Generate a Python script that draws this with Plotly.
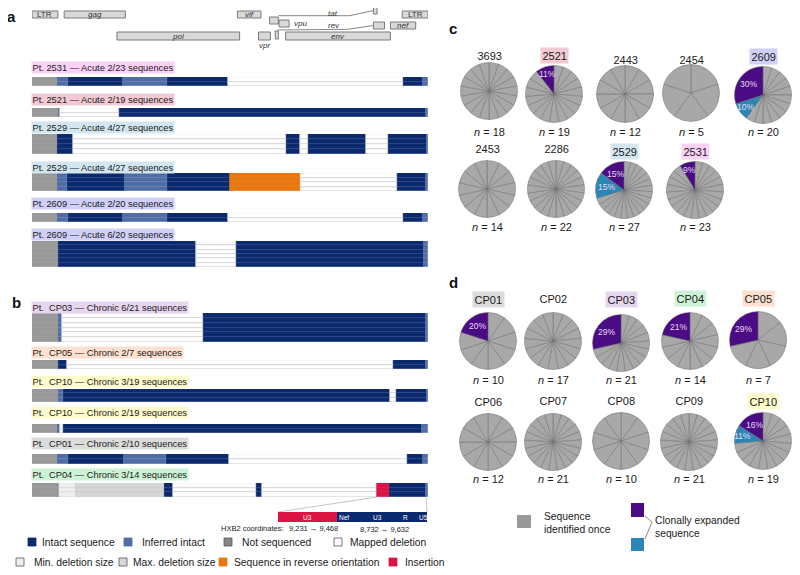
import math
import plotly.graph_objects as go

# ---------------- data ----------------
genome_len = 9719
gene_names = ["LTR", "gag", "pol", "vif", "vpr", "tat", "tat", "rev", "rev", "vpu", "env", "nef", "LTR"]
gene_start = [1, 790, 2085, 5041, 5559, 5831, 8379, 5970, 8379, 6062, 6225, 8797, 9086]
gene_end = [634, 2292, 5096, 5619, 5850, 6045, 8469, 6045, 8653, 6310, 8795, 9417, 9719]

track_labels = [
    "Pt. 2531 — Acute 2/23 sequences",
    "Pt. 2521 — Acute 2/19 sequences",
    "Pt. 2529 — Acute 4/27 sequences",
    "Pt. 2529 — Acute 4/27 sequences",
    "Pt. 2609 — Acute 2/20 sequences",
    "Pt. 2609 — Acute 6/20 sequences",
    "Pt.\u00a0 CP03 — Chronic 6/21 sequences",
    "Pt.\u00a0 CP05 — Chronic 2/7 sequences",
    "Pt.\u00a0 CP10 — Chronic 3/19 sequences",
    "Pt.\u00a0 CP10 — Chronic 2/19 sequences",
    "Pt.\u00a0 CP01 — Chronic 2/10 sequences",
    "Pt.\u00a0 CP04 — Chronic 3/14 sequences",
]
track_patient = ["2531", "2521", "2529", "2529", "2609", "2609", "CP03", "CP05", "CP10", "CP10", "CP01", "CP04"]
track_nseq = [2, 2, 4, 4, 2, 6, 6, 2, 3, 2, 2, 3]

brk_2531 = [0, 620, 880, 2230, 3310, 4810, 9100, 9590, 9719]
typ_2531 = ["NS", "INF", "INT", "INF", "INT", "DEL", "INT", "INF"]
brk_2521 = [0, 650, 690, 2140, 9670, 9719]
typ_2521 = ["NS", "INF", "DEL", "INT", "INF"]
brk_2529a = [0, 620, 1000, 6230, 6580, 6770, 8200, 8740, 9690, 9719]
typ_2529a = ["NS", "INT", "DEL", "INT", "DEL", "INT", "DEL", "INT", "INF"]
brk_2529b = [0, 620, 860, 2280, 3310, 4860, 6580, 8960, 9670, 9719]
typ_2529b = ["NS", "INF", "INT", "INF", "INT", "REV", "DEL", "INT", "INF"]
brk_2609a = [0, 620, 880, 2230, 3310, 4810, 9100, 9590, 9719]
typ_2609a = ["NS", "INF", "INT", "INF", "INT", "DEL", "INT", "INF"]
brk_2609b = [0, 640, 4020, 5010, 9620, 9719]
typ_2609b = ["NS", "INT", "DEL", "INT", "INF"]
brk_cp03 = [0, 640, 740, 4200, 9670, 9719]
typ_cp03 = ["NS", "INF", "DEL", "INT", "INF"]
brk_cp05 = [0, 640, 860, 8860, 9670, 9719]
typ_cp05 = ["NS", "INT", "DEL", "INT", "INF"]
brk_cp10a = [0, 640, 760, 8790, 8930, 9690, 9719]
typ_cp10a = ["NS", "INF", "INT", "DEL", "INT", "INF"]
brk_cp10b = [0, 610, 690, 760, 9570, 9719]
typ_cp10b = ["NS", "INF", "DEL", "INT", "INF"]
brk_cp01 = [0, 620, 880, 2260, 3290, 4830, 9200, 9590, 9719]
typ_cp01 = ["NS", "INF", "INT", "INF", "INT", "DEL", "INT", "INF"]
brk_cp04 = [0, 640, 660, 1080, 3240, 3460, 5500, 5640, 8470, 8760, 9670, 9719]
typ_cp04 = ["NS", "INT", "MIN", "MAX", "INT", "DEL", "INT", "DEL", "INS", "INT", "INF"]

track_breaks = [brk_2531, brk_2521, brk_2529a, brk_2529b, brk_2609a, brk_2609b,
                brk_cp03, brk_cp05, brk_cp10a, brk_cp10b, brk_cp01, brk_cp04]
track_types = [typ_2531, typ_2521, typ_2529a, typ_2529b, typ_2609a, typ_2609b,
               typ_cp03, typ_cp05, typ_cp10a, typ_cp10b, typ_cp01, typ_cp04]

insert_hxb2 = "9,231 \u2192 9,468"
ltr_hxb2 = "8,732 \u2192 9,632"
inset_labels = ["U3", "Nef", "U3", "R", "U5"]

c_ids = ["3693", "2521", "2443", "2454", "2609", "2453", "2286", "2529", "2531"]
c_n = [18, 19, 12, 5, 20, 14, 22, 27, 23]
c_purple = [0, 2, 0, 0, 6, 0, 0, 4, 2]
c_blue = [0, 0, 0, 0, 2, 0, 0, 4, 0]

d_ids = ["CP01", "CP02", "CP03", "CP04", "CP05", "CP06", "CP07", "CP08", "CP09", "CP10"]
d_n = [10, 17, 21, 14, 7, 12, 21, 10, 21, 19]
d_purple = [2, 0, 6, 3, 2, 0, 0, 0, 0, 3]
d_blue = [0, 0, 0, 0, 0, 0, 0, 0, 0, 2]

# ---------------- style / layout ----------------
OFF = 8                      # page body margin
W, H = 800 - OFF, 575 - OFF  # figure size so the page is 800x575
FONT = "Liberation Sans, Arial, sans-serif"
TXT = "#1a1a1a"
X0, X1 = 32, 428  # pixel extent of genome axis (page coords)


def px_x(p):
    return (p - OFF) / W


def px_y(p):
    return 1 - (p - OFF) / H


def nt_to_px(nt):
    return X0 + (X1 - X0) * nt / genome_len


def ann(x, y, text, size, xa="center", ya="middle", color=TXT, **kw):
    d = dict(xref="paper", yref="paper", x=px_x(x), y=px_y(y), text=text, showarrow=False,
             xanchor=xa, yanchor=ya, font=dict(size=size, color=color, family=FONT))
    d.update(kw)
    return d


seg_fill = {"INT": "#0b2a6e", "INF": "#4f6ca5", "NS": "#999999", "DEL": "#ffffff",
            "REV": "#e8780f", "INS": "#dc1443", "MIN": "#efefef", "MAX": "#d7d7d7"}
seg_line = {"INT": "#2a4586", "INF": "#6882b5", "NS": "#999999", "DEL": "#c9c9c9",
            "REV": "#e8780f", "INS": "#dc1443", "MIN": "#d3d3d3", "MAX": "#c8c8c8"}

patient_bg = {"2531": "#fbd2f6", "2521": "#f3cad3", "2529": "#d3e6f0", "2609": "#cfcff8",
              "CP03": "#e6d5ee", "CP05": "#fde0cf", "CP10": "#fdfbcb", "CP01": "#dcdcdc",
              "CP04": "#cdf3d6"}

track_px = [(77, 86), (108, 117), (134, 154), (173, 191), (213, 222), (241, 267),
            (313, 342), (360, 369), (389, 402), (424, 433), (454, 464), (483, 497)]
label_y = [67, 99, 127, 167, 203, 234, 307, 352, 381, 412, 443, 474]

gene_lane = [(11, 18), (11, 18), (32, 40), (11, 18), (32, 40), (17, 24), (7, 14),
             (31, 39), (22, 29), (20, 27), (32, 40), (22, 29), (11, 18)]
gene_label_mode = ["in", "in", "in", "in", "below", "none", "none", "none", "none",
                   "right", "in", "in", "in"]

fig = go.Figure()
shapes = []
annos = []

layout_axes = {}
layout_axes["xaxis"] = dict(domain=[px_x(X0), px_x(X1)], range=[0, genome_len], visible=False,
                            fixedrange=True, anchor="y")
layout_axes["yaxis"] = dict(domain=[px_y(46), px_y(OFF)], range=[46, OFF], visible=False,
                            fixedrange=True, anchor="x")

for i, g in enumerate(gene_names):
    t, b = gene_lane[i]
    shapes.append(dict(type="rect", xref="x", yref="y", x0=gene_start[i], x1=gene_end[i],
                       y0=t, y1=b, fillcolor="#d9d9d9", line=dict(color="#7a7a7a", width=1)))
    mode = gene_label_mode[i]
    txt = g if g == "LTR" else "<i>%s</i>" % g
    gf = dict(size=8, color="#333", family=FONT)
    if mode == "in":
        annos.append(dict(xref="x", yref="y", x=(gene_start[i] + gene_end[i]) / 2, y=(t + b) / 2,
                          xanchor="center", yanchor="middle", text=txt, showarrow=False, font=gf))
    elif mode == "below":
        annos.append(dict(xref="x", yref="y", x=(gene_start[i] + gene_end[i]) / 2, y=b + 5,
                          xanchor="center", yanchor="middle", text=txt, showarrow=False, font=gf))
    elif mode == "right":
        annos.append(dict(xref="x", yref="y", x=gene_end[i] + 60, y=(t + b) / 2 - 0.5,
                          xanchor="left", yanchor="middle", text=txt, showarrow=False, font=gf))

tat1_end, tat2_start = gene_end[5], gene_start[6]
rev1_end, rev2_start = gene_end[7], gene_start[8]
shapes.append(dict(type="path", xref="x", yref="y",
                   path="M %d,15.7 L %d,15.7 L %d,10.5" % (tat1_end, 7800, tat2_start),
                   line=dict(color="#666", width=0.8)))
shapes.append(dict(type="path", xref="x", yref="y",
                   path="M %d,30 L %d,29.3 L %d,25.5" % (rev1_end - 30, 7750, rev2_start),
                   line=dict(color="#666", width=0.8)))
for gname, gx, gy in [("tat", 7390, 13), ("rev", 7420, 25)]:
    annos.append(dict(xref="x", yref="y", x=gx, y=gy, xanchor="center", yanchor="middle", borderpad=0,
                      text="<i>%s</i>" % gname, showarrow=False, font=dict(size=8, color="#333", family=FONT)))

for k in range(len(track_labels)):
    ax = "y%d" % (k + 2)
    top, bot = track_px[k]
    n = track_nseq[k]
    layout_axes["yaxis%d" % (k + 2)] = dict(domain=[px_y(bot), px_y(top)], range=[n - 0.5, -0.5],
                                            visible=False, fixedrange=True, anchor="x")
    brk = track_breaks[k]
    typ = track_types[k]
    for code in seg_fill:
        base, length, rows = [], [], []
        for s in range(len(typ)):
            if typ[s] != code:
                continue
            for r in range(n):
                base.append(brk[s])
                length.append(brk[s + 1] - brk[s])
                rows.append(r)
        if not base:
            continue
        fig.add_trace(go.Bar(orientation="h", y=rows, x=length, base=base, width=1,
                             marker=dict(color=seg_fill[code], line=dict(color=seg_line[code], width=0.6)),
                             xaxis="x", yaxis=ax, hoverinfo="skip", showlegend=False))
    annos.append(ann(31, label_y[k], track_labels[k], 9.3, xa="left", borderpad=0.5,
                     bgcolor=patient_bg[track_patient[k]]))

# inset below CP04 track
ins_k = 11
ins_idx = track_types[ins_k].index("INS")
ins_px = nt_to_px(track_breaks[ins_k][ins_idx])
cp04_bot = track_px[ins_k][1]
IN_T, IN_B = 512, 522
IN_L, IN_M, IN_R = 278, 337, 427
shapes.append(dict(type="line", xref="paper", yref="paper", x0=px_x(ins_px), y0=px_y(cp04_bot),
                   x1=px_x(IN_L), y1=px_y(IN_T), line=dict(color="#aaa", width=0.7)))
shapes.append(dict(type="line", xref="paper", yref="paper", x0=px_x(X1 - 2), y0=px_y(cp04_bot),
                   x1=px_x(IN_R), y1=px_y(IN_T), line=dict(color="#aaa", width=0.7)))
shapes.append(dict(type="rect", xref="paper", yref="paper", x0=px_x(IN_L), x1=px_x(IN_M),
                   y0=px_y(IN_B), y1=px_y(IN_T), fillcolor=seg_fill["INS"], line=dict(width=0)))
shapes.append(dict(type="rect", xref="paper", yref="paper", x0=px_x(IN_M), x1=px_x(IN_R),
                   y0=px_y(IN_B), y1=px_y(IN_T), fillcolor=seg_fill["INT"], line=dict(width=0)))
for lab, xx in zip(inset_labels, [307, 344, 377, 405, 423]):
    annos.append(ann(xx, (IN_T + IN_B) / 2, lab, 6.5, color="#ffffff"))
annos.append(ann(219, 528, "HXB2 coordinates:", 7.5, xa="left"))
annos.append(ann(313, 528, insert_hxb2, 7.5))
annos.append(ann(384, 529, ltr_hxb2, 7.5))

leg_items = [
    ("INT", "Intact sequence", 28, 40, 542),
    ("INF", "Inferred intact", 124, 140, 542),
    ("NS", "Not sequenced", 224, 240, 542),
    ("DEL", "Mapped deletion", 334, 348, 542),
    ("MIN", "Min. deletion size", 16, 32, 562),
    ("MAX", "Max. deletion size", 119, 131, 562),
    ("REV", "Sequence in reverse orientation", 219, 232, 562),
    ("INS", "Insertion", 389, 403, 562),
]
for code, text, sx, tx, yy in leg_items:
    edge = "#555" if code in ("DEL", "MIN", "MAX", "NS") else seg_fill[code]
    fill = "#888888" if code == "NS" else seg_fill[code]
    shapes.append(dict(type="rect", xref="paper", yref="paper", x0=px_x(sx), x1=px_x(sx + 8),
                       y0=px_y(yy + 4), y1=px_y(yy - 4), fillcolor=fill, line=dict(color=edge, width=0.8)))
    annos.append(ann(tx, yy, text, 10.3, xa="left"))

for letter, lx, ly in [("a", 11, 17), ("b", 16, 302), ("c", 453, 28), ("d", 453, 282)]:
    annos.append(ann(lx, ly, "<b>%s</b>" % letter, 15, color="#111"))

# ---------------- pies ----------------
GREY, PURPLE, BLUE = "#a8a8a8", "#4a0b84", "#2b86b6"
R = 28.5
c_centers = [(489, 91), (554, 94), (625, 94), (691, 93), (763, 95),
             (487, 189), (556, 189), (624, 190), (695, 190)]
c_title_y = [55, 55, 59, 59, 57, 149, 149, 151, 151]
c_nlab_y = [132] * 5 + [227] * 4
d_centers = [(488, 341), (553, 341), (621, 343), (690, 341), (758, 340),
             (488, 442), (553, 442), (621, 441), (689, 442), (763, 441)]
d_title_y = [299, 298, 299, 298, 298, 401, 400, 400, 400, 401]
d_nlab_y = [380] * 5 + [479] * 5


def add_pie(pid, n, p, b, center, ty, ny):
    cx, cy = center
    vals, cols = [], []
    for _ in range(n - p - b):
        vals.append(1); cols.append(GREY)
    if b:
        vals.append(b); cols.append(BLUE)
    if p:
        vals.append(p); cols.append(PURPLE)
    fig.add_trace(go.Pie(values=vals, textinfo="none", sort=False, direction="clockwise",
                         rotation=0, marker=dict(colors=cols, line=dict(color="#6e6e6e", width=0.5)),
                         domain=dict(x=[px_x(cx - R), px_x(cx + R)], y=[px_y(cy + R), px_y(cy - R)]),
                         hoverinfo="skip", showlegend=False))
    # percentage labels at the middle of the clonal slices (clockwise angle from 12 o'clock)
    end_p = 360.0
    start_p = 360.0 - 360.0 * p / n
    start_b = start_p - 360.0 * b / n
    for cnt, a0, a1 in [(p, start_p, end_p), (b, start_b, start_p)]:
        if not cnt:
            continue
        mid = math.radians((a0 + a1) / 2)
        rr = R * (0.74 if cnt / n < 0.12 else 0.64)
        annos.append(ann(cx + rr * math.sin(mid), cy - rr * math.cos(mid), "%d%%" % round(100 * cnt / n),
                         8.5, color="#e6dcf2"))
    bg = patient_bg.get(pid) if (p or b) else None
    annos.append(ann(cx, ty, pid, 11, borderpad=1.5, bgcolor=bg if bg else "rgba(0,0,0,0)"))
    annos.append(ann(cx, ny, "<i>n</i> = %d" % n, 11))


for i in range(len(c_ids)):
    add_pie(c_ids[i], c_n[i], c_purple[i], c_blue[i], c_centers[i], c_title_y[i], c_nlab_y[i])
for i in range(len(d_ids)):
    add_pie(d_ids[i], d_n[i], d_purple[i], d_blue[i], d_centers[i], d_title_y[i], d_nlab_y[i])

shapes.append(dict(type="rect", xref="paper", yref="paper", x0=px_x(517), x1=px_x(531),
                   y0=px_y(528), y1=px_y(515), fillcolor="#999999", line=dict(width=0)))
annos.append(ann(542, 523, "Sequence<br>identified once", 10.3, xa="left", align="left"))
shapes.append(dict(type="rect", xref="paper", yref="paper", x0=px_x(631), x1=px_x(644),
                   y0=px_y(517), y1=px_y(503), fillcolor=PURPLE, line=dict(width=0)))
shapes.append(dict(type="rect", xref="paper", yref="paper", x0=px_x(631), x1=px_x(644),
                   y0=px_y(551), y1=px_y(538), fillcolor=BLUE, line=dict(width=0)))
shapes.append(dict(type="path", xref="paper", yref="paper",
                   path="M %f,%f L %f,%f L %f,%f" % (px_x(645), px_y(516), px_x(652), px_y(522),
                                                     px_x(645), px_y(539)),
                   line=dict(color="#555", width=0.7)))
annos.append(ann(653, 527, "Clonally expanded<br>sequence", 10.3, xa="left", align="left"))

fig.update_layout(width=W, height=H, margin=dict(l=0, r=0, t=0, b=0), paper_bgcolor="white",
                  plot_bgcolor="rgba(0,0,0,0)", barmode="overlay", bargap=0, showlegend=False,
                  shapes=shapes, annotations=annos, **layout_axes)

fig.write_html("out.html")
